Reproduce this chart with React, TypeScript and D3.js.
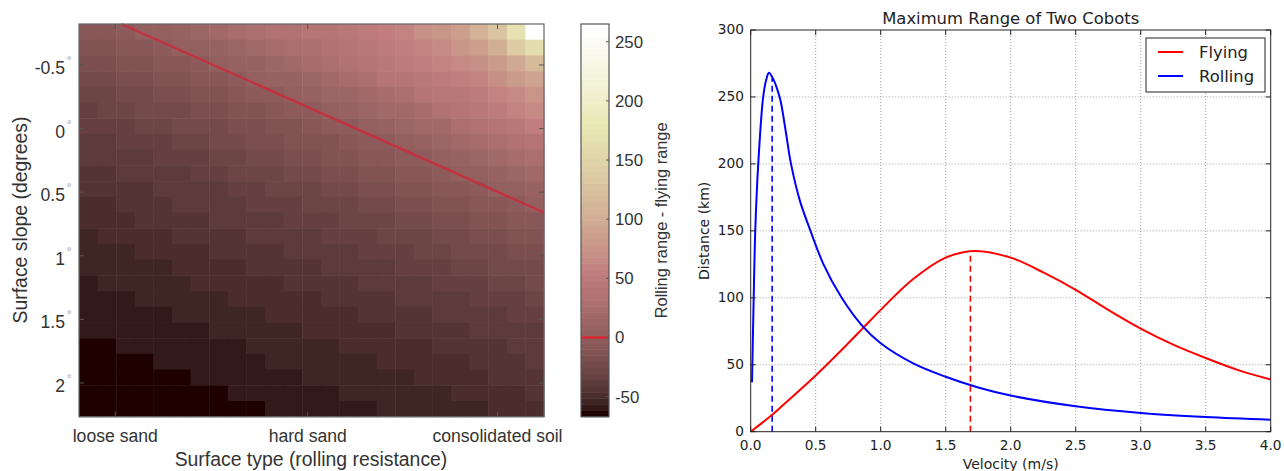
import React from 'react';
import * as d3 from 'd3';

// ---- heatmap: rolling range minus flying range (km) ----
const surfaceTypes = ['loose sand', 'hard sand', 'consolidated soil'];
const surfaceTickAt = [1.95, 12.3, 22.5]; // column units
const slopeTicks = [-0.5, 0, 0.5, 1, 1.5, 2];
const slopeExtent = [-0.822, 2.265];
const colorTicks = [-50, 0, 50, 100, 150, 200, 250];
const colorExtent = [-67, 265];
// zero crossing (rolling == flying), col units / degrees
const zeroLineX = [2.28, 25];
const zeroLineY = [-0.822, 0.66];

const rangeDiff = [
  [-9, -6, -2, 1, 5, 9, 13, 18, 23, 29, 33, 36, 38, 40, 46, 52, 57, 62, 68, 76, 86, 105, 125, 170, 265],
  [-14, -12, -9, -5, -2, 2, 5, 10, 14, 19, 24, 28, 31, 34, 39, 44, 50, 55, 60, 66, 74, 86, 100, 140, 165],
  [-19, -17, -14, -11, -8, -5, -2, 2, 6, 10, 14, 19, 24, 28, 32, 37, 43, 48, 53, 58, 64, 72, 82, 98, 115],
  [-24, -21, -19, -16, -14, -11, -8, -5, -1, 2, 6, 10, 15, 20, 25, 30, 37, 40, 45, 50, 55, 62, 70, 80, 92],
  [-28, -26, -23, -21, -19, -16, -13, -11, -8, -4, -1, 3, 7, 11, 15, 20, 25, 31, 37, 42, 47, 52, 58, 65, 74],
  [-31, -29, -27, -25, -23, -21, -18, -16, -13, -10, -7, -4, -1, 3, 7, 11, 16, 21, 26, 32, 38, 45, 52, 58, 64],
  [-35, -33, -31, -29, -27, -25, -23, -21, -18, -16, -13, -10, -7, -4, 0, 3, 7, 12, 16, 21, 27, 32, 39, 46, 53],
  [-38, -36, -34, -33, -31, -29, -27, -25, -23, -20, -18, -15, -13, -10, -7, -3, 0, 4, 8, 12, 17, 22, 27, 33, 39],
  [-40, -39, -37, -36, -34, -32, -31, -29, -27, -25, -22, -20, -18, -15, -12, -9, -6, -3, 0, 4, 8, 13, 17, 22, 28],
  [-43, -42, -40, -39, -37, -36, -34, -32, -30, -29, -27, -24, -22, -20, -17, -15, -12, -9, -6, -3, 1, 5, 9, 13, 18],
  [-46, -44, -43, -42, -40, -39, -37, -36, -34, -32, -30, -28, -26, -24, -22, -20, -17, -14, -12, -9, -6, -2, 1, 5, 9],
  [-48, -47, -45, -44, -43, -41, -40, -39, -37, -35, -34, -32, -30, -28, -26, -24, -22, -19, -17, -14, -11, -8, -5, -2, 2],
  [-50, -49, -48, -46, -45, -44, -43, -41, -40, -38, -37, -35, -34, -32, -30, -28, -26, -24, -22, -19, -17, -14, -11, -8, -5],
  [-52, -51, -50, -49, -47, -46, -45, -44, -42, -41, -40, -38, -37, -35, -33, -32, -30, -28, -26, -24, -21, -19, -16, -14, -11],
  [-54, -53, -52, -51, -50, -48, -47, -46, -45, -44, -42, -41, -40, -38, -36, -35, -33, -31, -29, -28, -25, -23, -21, -19, -16],
  [-55, -54, -54, -53, -52, -51, -49, -48, -47, -46, -45, -44, -42, -41, -39, -38, -36, -35, -33, -31, -29, -27, -25, -23, -21],
  [-57, -56, -55, -54, -53, -52, -51, -50, -49, -48, -47, -46, -45, -43, -42, -41, -39, -38, -36, -35, -33, -31, -29, -27, -25],
  [-58, -58, -57, -56, -55, -54, -53, -52, -51, -50, -49, -48, -47, -46, -45, -43, -42, -41, -39, -38, -36, -34, -33, -31, -29],
  [-60, -59, -58, -58, -57, -56, -55, -54, -53, -52, -51, -50, -49, -48, -47, -46, -44, -43, -42, -40, -39, -37, -36, -34, -32],
  [-61, -60, -60, -59, -58, -57, -57, -56, -55, -54, -53, -52, -51, -50, -49, -48, -47, -46, -44, -43, -42, -40, -39, -37, -36],
  [-63, -62, -61, -60, -60, -59, -58, -57, -57, -56, -55, -54, -53, -52, -51, -50, -49, -48, -47, -45, -44, -43, -42, -40, -39],
  [-64, -63, -62, -62, -61, -60, -60, -59, -58, -57, -56, -56, -55, -54, -53, -52, -51, -50, -49, -48, -47, -45, -44, -43, -41],
  [-65, -64, -64, -63, -62, -62, -61, -60, -60, -59, -58, -57, -56, -56, -55, -54, -53, -52, -51, -50, -49, -48, -46, -45, -44],
  [-66, -65, -65, -64, -64, -63, -62, -62, -61, -60, -59, -59, -58, -57, -56, -55, -55, -54, -53, -52, -51, -50, -49, -47, -46],
  [-67, -67, -66, -65, -65, -64, -64, -63, -62, -62, -61, -60, -59, -59, -58, -57, -56, -55, -55, -54, -53, -52, -51, -50, -48],
];

// ---- line chart: max range vs velocity ----
const velTicks = [0, 0.5, 1, 1.5, 2, 2.5, 3, 3.5, 4];
const distTicks = [0, 50, 100, 150, 200, 250, 300];
const flyingV = [0, 0.17, 0.25, 0.5, 0.75, 0.86, 1.0, 1.25, 1.5, 1.72, 2.0, 2.25, 2.5, 2.75, 3.0, 3.25, 3.5, 3.75, 4.0];
const flyingKm = [0, 13, 20, 42, 66, 77, 91, 114, 130, 135, 130, 119, 106, 91, 77, 65, 55, 46, 39];
const rollingV = [0.01, 0.023, 0.035, 0.058, 0.096, 0.12, 0.14, 0.17, 0.2, 0.23, 0.27, 0.31, 0.38, 0.46, 0.56, 0.7, 0.85, 1.0, 1.25, 1.5, 1.75, 2.0, 2.5, 3.0, 3.5, 4.0];
const rollingKm = [37, 100, 150, 200, 250, 263, 268, 264, 257, 247, 224, 200, 172, 150, 125, 100, 80, 66, 51, 41, 33, 27, 19, 14, 11, 9];
const seriesNames = ['Flying', 'Rolling'];
const seriesColors = ['#ff0000', '#0000ff'];
const peakV = [1.69, 0.165];
const peakKm = [134, 264];

// MATLAB "pink" colormap, 64 steps
function pink(t: number) {
  const i = Math.max(0, Math.min(63, Math.floor(t * 64)));
  const g = i / 63;
  const clamp = (v: number) => Math.max(0, Math.min(1, v));
  const hr = clamp((i + 1) / 24), hg = clamp((i + 1 - 24) / 24), hb = clamp((i + 1 - 48) / 16);
  const c = (h: number) => Math.round(255 * Math.sqrt((2 * g + h) / 3));
  return `rgb(${c(hr)},${c(hg)},${c(hb)})`;
}

const LFONT = 'Liberation Sans, Arial, sans-serif';
const RFONT = 'DejaVu Sans, sans-serif';

function Heatmap() {
  const x0 = 79, x1 = 544, y0 = 24, y1 = 416.7;
  const nRows = rangeDiff.length, nCols = rangeDiff[0].length;
  const xc = d3.scaleLinear().domain([0, nCols]).range([x0, x1]);
  const yb = d3.scaleBand<number>().domain(d3.range(nRows)).range([y0, y1]);
  const ys = d3.scaleLinear().domain(slopeExtent).range([y0, y1]);
  const cnorm = d3.scaleLinear().domain(colorExtent).range([0, 1]).clamp(true);
  const cy = d3.scaleLinear().domain(colorExtent).range([y1, y0]);
  const cbX0 = 581, cbX1 = 609;
  const steps = d3.range(64);
  const stepH = (y1 - y0) / 64;
  const tickCol = '#555';
  return (
    <g>
      {rangeDiff.map((row, r) =>
        row.map((v, c) => (
          <rect key={`${r}-${c}`} x={xc(c)} y={yb(r)} width={xc(c + 1) - xc(c) + 0.5} height={yb.bandwidth() + 0.5}
            fill={pink(cnorm(v))} />
        ))
      )}
      <line x1={xc(zeroLineX[0])} y1={ys(zeroLineY[0])} x2={xc(zeroLineX[1])} y2={ys(zeroLineY[1])}
        stroke="#cc2a3a" strokeWidth={2.4} strokeOpacity={0.85} />
      <rect x={x0} y={y0} width={x1 - x0} height={y1 - y0} fill="none" stroke="#666" strokeWidth={1.2} />
      {slopeTicks.map(t => (
        <g key={t}>
          <line x1={x0} x2={x0 + 5} y1={ys(t)} y2={ys(t)} stroke={tickCol} />
          <line x1={x1} x2={x1 - 5} y1={ys(t)} y2={ys(t)} stroke={tickCol} />
          <text x={65} y={ys(t) + 9} textAnchor="end" fontFamily={LFONT} fontSize={17.6} fill="#333">{t}</text>
          <text x={67} y={ys(t) - 1} fontFamily={LFONT} fontSize={11} fill="#999">°</text>
        </g>
      ))}
      {surfaceTickAt.map((t, i) => (
        <g key={i}>
          <line x1={xc(t)} x2={xc(t)} y1={y0} y2={y0 + 5} stroke={tickCol} />
          <line x1={xc(t)} x2={xc(t)} y1={y1} y2={y1 - 5} stroke={tickCol} />
          <text x={xc(t)} y={442} textAnchor="middle" fontFamily={LFONT} fontSize={17.6} fill="#333">{surfaceTypes[i]}</text>
        </g>
      ))}
      <text x={311} y={466} textAnchor="middle" fontFamily={LFONT} fontSize={19.4} fill="#333">
        Surface type (rolling resistance)
      </text>
      <text transform={`translate(27,220) rotate(-90)`} textAnchor="middle" fontFamily={LFONT} fontSize={19.4} fill="#333">
        Surface slope (degrees)
      </text>

      {/* colorbar */}
      {steps.map(i => (
        <rect key={i} x={cbX0} y={y1 - (i + 1) * stepH} width={cbX1 - cbX0} height={stepH + 0.5}
          fill={pink((i + 0.5) / 64)} />
      ))}
      <line x1={cbX0 + 1} x2={cbX1 - 1} y1={cy(0)} y2={cy(0)} stroke="#e0202a" strokeWidth={2.2} />
      <rect x={cbX0} y={y0} width={cbX1 - cbX0} height={y1 - y0} fill="none" stroke="#555" strokeWidth={1.2} />
      {colorTicks.map(t => (
        <g key={t}>
          <line x1={cbX1} x2={cbX1 - 3} y1={cy(t)} y2={cy(t)} stroke={tickCol} />
          <text x={615} y={cy(t) + 6} fontFamily={LFONT} fontSize={16.8} fill="#333">{t}</text>
        </g>
      ))}
      <text transform={`translate(667,${(y0 + y1) / 2}) rotate(-90)`} textAnchor="middle" fontFamily={LFONT} fontSize={16.4} fill="#333">
        Rolling range - flying range
      </text>
    </g>
  );
}

function RangeChart() {
  const xs = d3.scaleLinear().domain([0, 4]).range([750.7, 1270.7]);
  const ys = d3.scaleLinear().domain([0, 300]).range([431.7, 30]);
  const [left, right] = xs.range();
  const [bottom, top] = ys.range();
  const line = d3.line<[number, number]>().x(d => xs(d[0])).y(d => ys(d[1])).curve(d3.curveCatmullRom.alpha(0.5));
  const flying = flyingV.map((v, i) => [v, flyingKm[i]] as [number, number]);
  const rolling = rollingV.map((v, i) => [v, rollingKm[i]] as [number, number]);
  const series = [flying, rolling];
  return (
    <g fontFamily={RFONT} fill="#222">
      <defs>
        <clipPath id="plotclip">
          <rect x={left} y={top} width={right - left} height={bottom - top} />
        </clipPath>
      </defs>
      {velTicks.slice(1, -1).map(t => (
        <line key={t} x1={xs(t)} x2={xs(t)} y1={top} y2={bottom} stroke="#888" strokeWidth={0.8} strokeDasharray="1,2" />
      ))}
      {distTicks.slice(1, -1).map(t => (
        <line key={t} x1={left} x2={right} y1={ys(t)} y2={ys(t)} stroke="#888" strokeWidth={0.8} strokeDasharray="1,2" />
      ))}
      <g clipPath="url(#plotclip)">
        {series.map((s, i) => (
          <path key={i} d={line(s) || ''} fill="none" stroke={seriesColors[i]} strokeWidth={2} />
        ))}
        {peakV.map((v, i) => (
          <line key={i} x1={xs(v)} x2={xs(v)} y1={ys(0)} y2={ys(peakKm[i])} stroke={seriesColors[i]}
            strokeWidth={1.6} strokeDasharray="6,4" />
        ))}
      </g>
      <rect x={left} y={top} width={right - left} height={bottom - top} fill="none" stroke="#222" strokeWidth={1} />
      {velTicks.map(t => (
        <g key={t}>
          <line x1={xs(t)} x2={xs(t)} y1={bottom} y2={bottom - 5} stroke="#222" />
          <line x1={xs(t)} x2={xs(t)} y1={top} y2={top + 5} stroke="#222" />
          <text x={xs(t)} y={450} textAnchor="middle" fontSize={13.7}>{t.toFixed(1)}</text>
        </g>
      ))}
      {distTicks.map(t => (
        <g key={t}>
          <line x1={left} x2={left + 5} y1={ys(t)} y2={ys(t)} stroke="#222" />
          <line x1={right} x2={right - 5} y1={ys(t)} y2={ys(t)} stroke="#222" />
          <text x={744} y={ys(t) + 4} textAnchor="end" fontSize={13.7}>{t}</text>
        </g>
      ))}
      <text x={(left + right) / 2} y={24} textAnchor="middle" fontSize={16.4}>Maximum Range of Two Cobots</text>
      <text x={(left + right) / 2} y={469} textAnchor="middle" fontSize={14}>Velocity (m/s)</text>
      <text transform={`translate(709,${(top + bottom) / 2}) rotate(-90)`} textAnchor="middle" fontSize={14}>Distance (km)</text>

      <rect x={1146} y={38} width={119} height={54} fill="#fff" stroke="#222" strokeWidth={1} />
      {seriesNames.map((n, i) => (
        <g key={n}>
          <line x1={1158} x2={1183} y1={52 + i * 24} y2={52 + i * 24} stroke={seriesColors[i]} strokeWidth={2} />
          <text x={1199} y={58 + i * 24} fontSize={16.4}>{n}</text>
        </g>
      ))}
    </g>
  );
}

export default function App() {
  return (
    <svg width={1284} height={471} style={{ position: 'absolute', left: 0, top: 0, background: '#fff' }}>
      <rect width={1284} height={471} fill="#fff" />
      <Heatmap />
      <RangeChart />
    </svg>
  );
}
